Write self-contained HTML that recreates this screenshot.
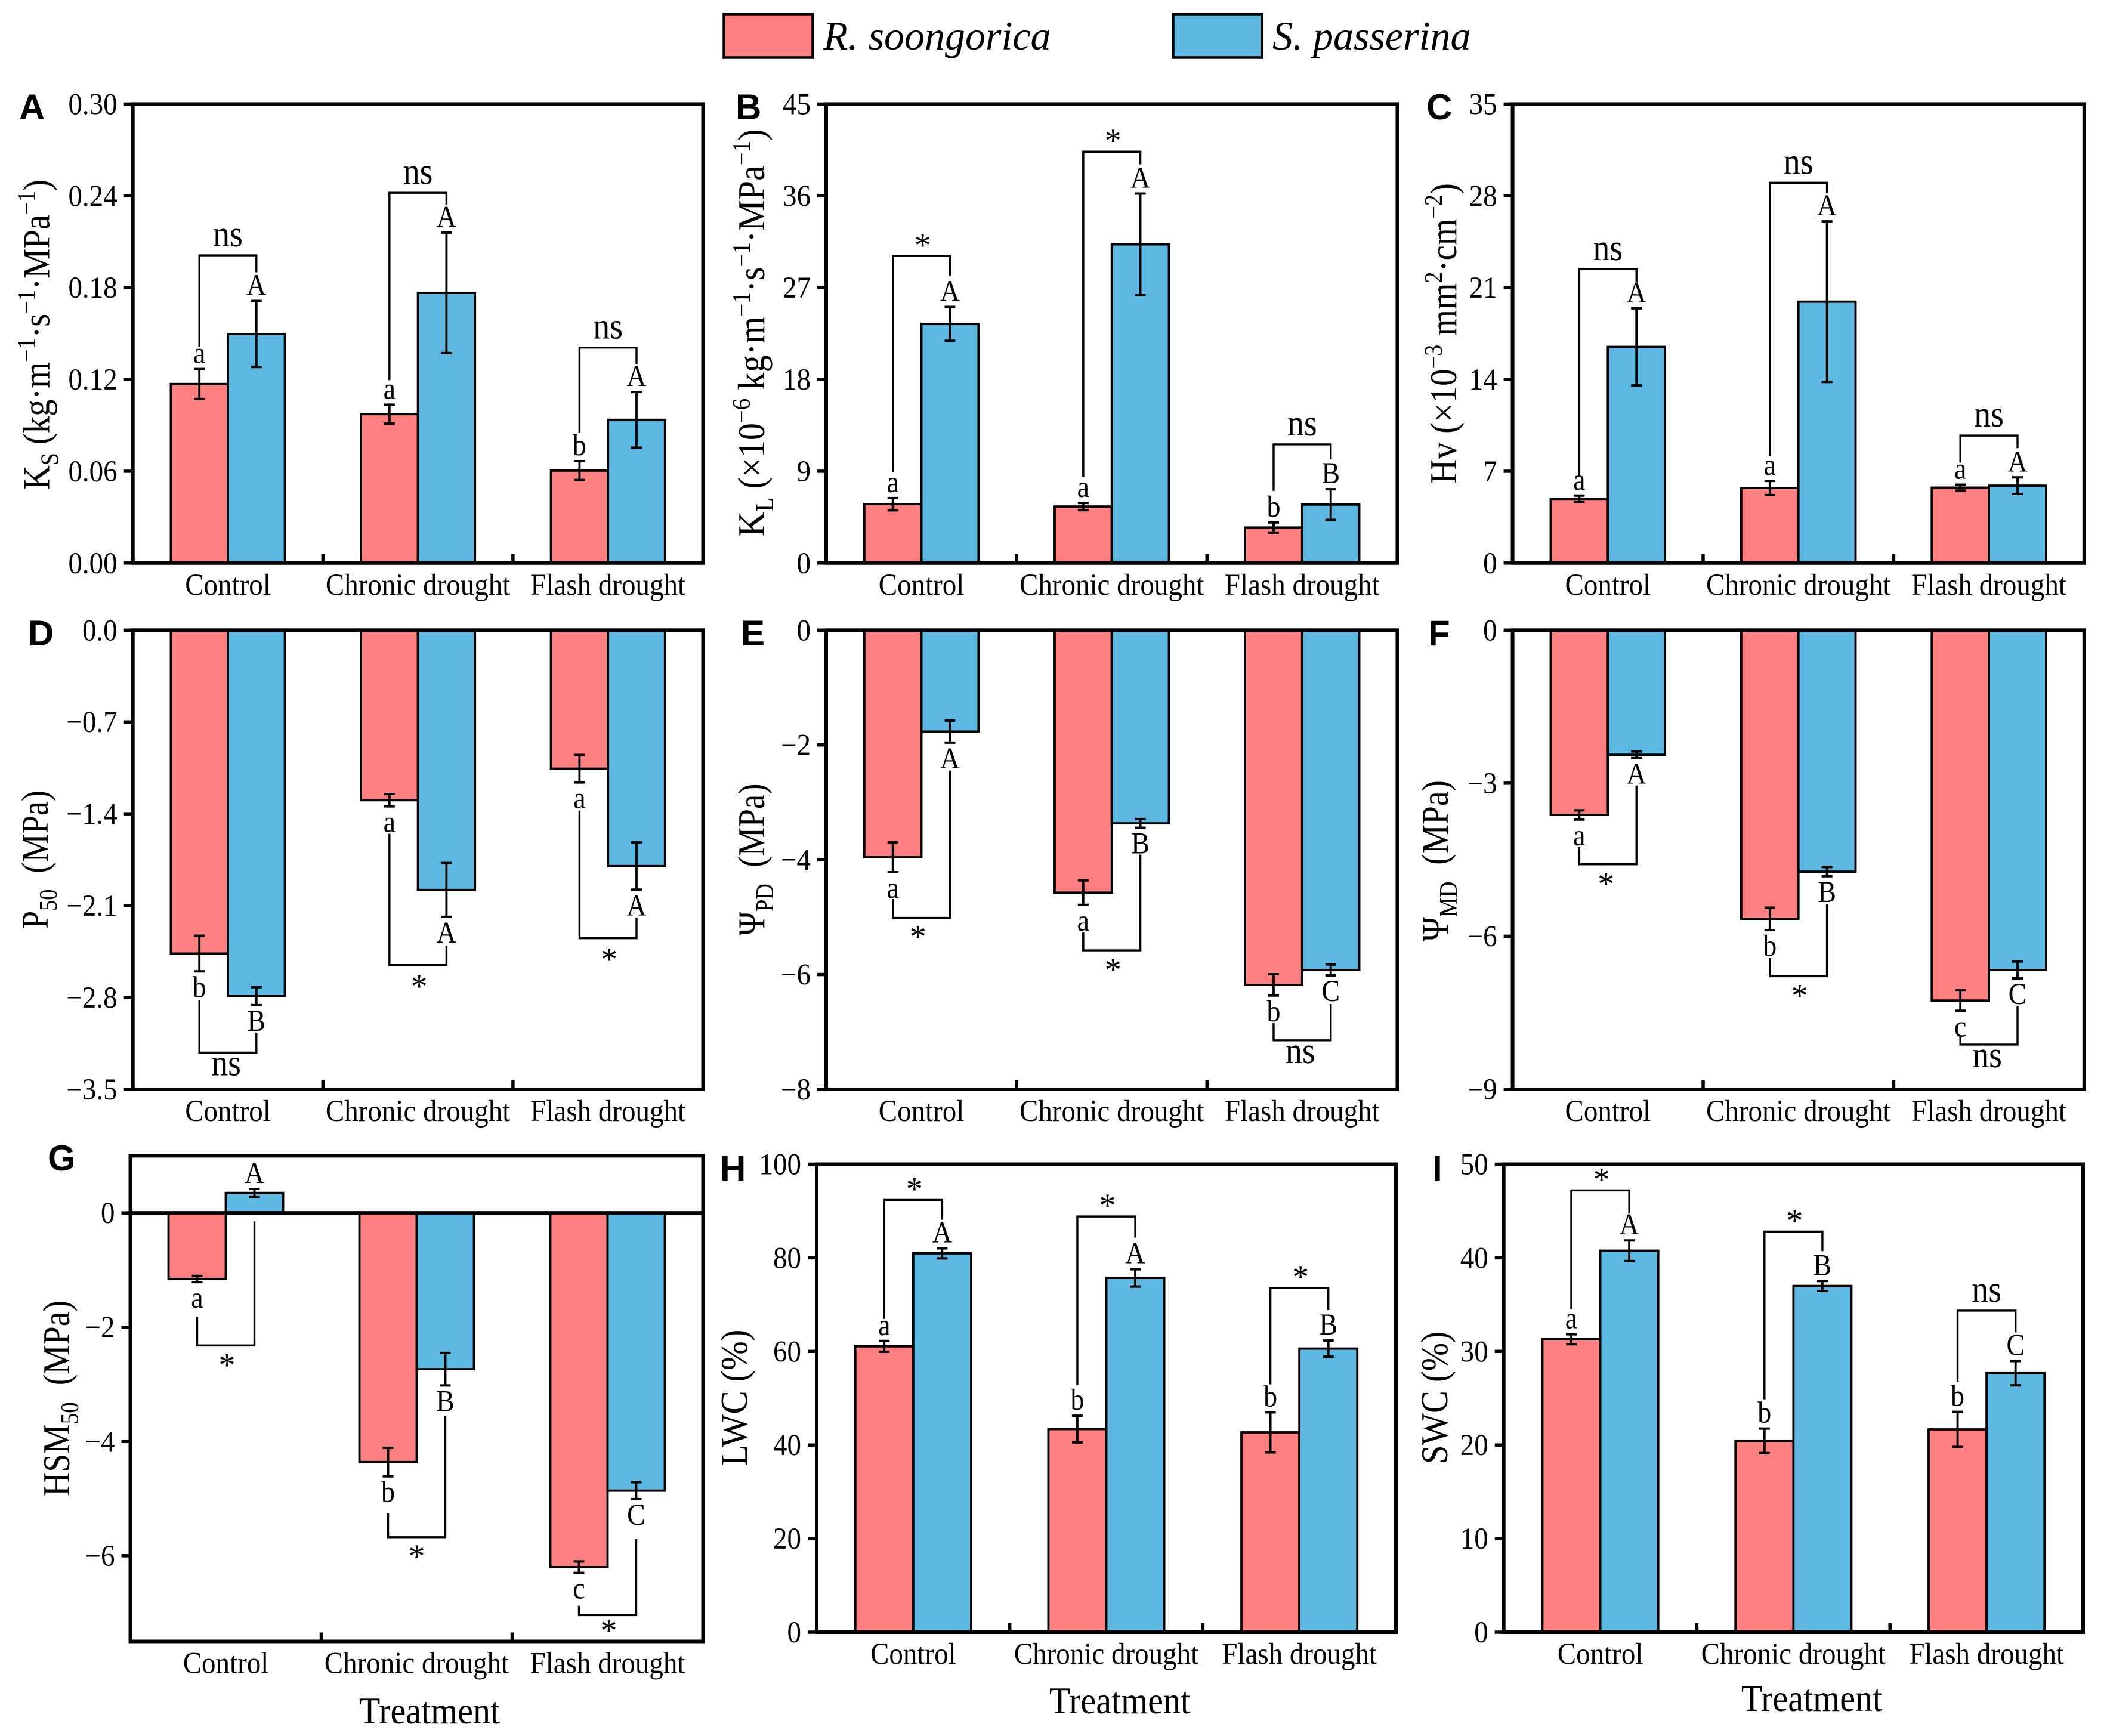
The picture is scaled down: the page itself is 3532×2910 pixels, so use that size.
<!DOCTYPE html>
<html lang="en">
<head>
<meta charset="utf-8">
<title>Hydraulic traits of R. soongorica and S. passerina under drought</title>
<style>
html,body{margin:0;padding:0;background:#fff}
svg{display:block}
text{font-family:"Liberation Serif","DejaVu Serif",serif;fill:#000}
</style>
</head>
<body>
<svg id="figure" xmlns="http://www.w3.org/2000/svg" width="3532" height="2910" viewBox="0 0 3532 2910">
  <rect x="0" y="0" width="3532" height="2910" fill="#fff"/>
  <g>
    <rect x="1213.5" y="23.5" width="149" height="73" fill="#FF8080" stroke="#000" stroke-width="4.5"/>
    <text x="1380" y="83" font-size="68" font-style="italic">R. soongorica</text>
    <rect x="1966.5" y="23.5" width="149" height="73" fill="#5DB9E2" stroke="#000" stroke-width="4.5"/>
    <text x="2133" y="83" font-size="68" font-style="italic">S. passerina</text>
  </g>
</svg>
<script>
// ---- shared categories ----
const categories = ['Control', 'Chronic drought', 'Flash drought'];

// ---- A: Ks ----
const ksTicks = [0, 0.06, 0.12, 0.18, 0.24, 0.30];
const ksTickLabels = ['0.00', '0.06', '0.12', '0.18', '0.24', '0.30'];
const ksRed = [0.117, 0.0973, 0.0604];
const ksRedErr = [0.0098, 0.0062, 0.0062];
const ksBlue = [0.1497, 0.1766, 0.0936];
const ksBlueErr = [0.0216, 0.0394, 0.0182];
const ksRedLetters = ['a', 'a', 'b'];
const ksBlueLetters = ['A', 'A', 'A'];
const ksSig = ['ns', 'ns', 'ns'];
const ksBracket = [0.2011, 0.242, 0.1408];

// ---- B: KL ----
const klTicks = [0, 9, 18, 27, 36, 45];
const klTickLabels = ['0', '9', '18', '27', '36', '45'];
const klRed = [5.77, 5.54, 3.48];
const klRedErr = [0.6, 0.35, 0.5];
const klBlue = [23.45, 31.24, 5.73];
const klBlueErr = [1.66, 4.98, 1.5];
const klRedLetters = ['a', 'a', 'b'];
const klBlueLetters = ['A', 'A', 'B'];
const klSig = ['*', '*', 'ns'];
const klBracket = [30.09, 40.33, 11.63];

// ---- C: Hv ----
const hvTicks = [0, 7, 14, 21, 28, 35];
const hvTickLabels = ['0', '7', '14', '21', '28', '35'];
const hvRed = [4.89, 5.72, 5.75];
const hvRedErr = [0.25, 0.54, 0.22];
const hvBlue = [16.48, 19.93, 5.9];
const hvBlueErr = [2.94, 6.12, 0.63];
const hvRedLetters = ['a', 'a', 'a'];
const hvBlueLetters = ['A', 'A', 'A'];
const hvSig = ['ns', 'ns', 'ns'];
const hvBracket = [22.42, 29.0, 9.72];

// ---- D: P50 ----
const p50Ticks = [0, -0.7, -1.4, -2.1, -2.8, -3.5];
const p50TickLabels = ['0.0', '\u22120.7', '\u22121.4', '\u22122.1', '\u22122.8', '\u22123.5'];
const p50Red = [-2.465, -1.296, -1.056];
const p50RedErr = [0.136, 0.047, 0.105];
const p50Blue = [-2.79, -1.98, -1.798];
const p50BlueErr = [0.068, 0.205, 0.18];
const p50RedLetters = ['b', 'a', 'a'];
const p50BlueLetters = ['B', 'A', 'A'];
const p50Sig = ['ns', '*', '*'];
const p50Bracket = [-3.22, -2.553, -2.348];

// ---- E: PsiPD ----
const pdTicks = [0, -2, -4, -6, -8];
const pdTickLabels = ['0', '\u22122', '\u22124', '\u22126', '\u22128'];
const pdRed = [-3.957, -4.573, -6.18];
const pdRedErr = [0.26, 0.213, 0.186];
const pdBlue = [-1.768, -3.366, -5.92];
const pdBlueErr = [0.192, 0.076, 0.095];
const pdRedLetters = ['a', 'a', 'b'];
const pdBlueLetters = ['A', 'B', 'C'];
const pdSig = ['*', '*', 'ns'];
const pdBracket = [-5.012, -5.579, -7.146];

// ---- F: PsiMD ----
const mdTicks = [0, -3, -6, -9];
const mdTickLabels = ['0', '\u22123', '\u22126', '\u22129'];
const mdRed = [-3.622, -5.66, -7.26];
const mdRedErr = [0.09, 0.22, 0.2];
const mdBlue = [-2.442, -4.733, -6.66];
const mdBlueErr = [0.065, 0.09, 0.165];
const mdRedLetters = ['a', 'b', 'c'];
const mdBlueLetters = ['A', 'B', 'C'];
const mdSig = ['*', '*', 'ns'];
const mdBracket = [-4.589, -6.784, -8.122];

// ---- G: HSM50 ----
const hsmTicks = [0, -2, -4, -6];
const hsmTickLabels = ['0', '\u22122', '\u22124', '\u22126'];
const hsmRed = [-1.156, -4.36, -6.2];
const hsmRedErr = [0.054, 0.25, 0.1];
const hsmBlue = [0.35, -2.735, -4.86];
const hsmBlueErr = [0.07, 0.285, 0.148];
const hsmRedLetters = ['a', 'b', 'c'];
const hsmBlueLetters = ['A', 'B', 'C'];
const hsmSig = ['*', '*', '*'];
const hsmBracket = [-2.32, -5.676, -7.04];

// ---- H: LWC ----
const lwcTicks = [0, 20, 40, 60, 80, 100];
const lwcTickLabels = ['0', '20', '40', '60', '80', '100'];
const lwcRed = [61.08, 43.4, 42.7];
const lwcRedErr = [1.15, 2.85, 4.27];
const lwcBlue = [80.95, 75.7, 60.6];
const lwcBlueErr = [1.07, 1.85, 1.72];
const lwcRedLetters = ['a', 'b', 'b'];
const lwcBlueLetters = ['A', 'A', 'B'];
const lwcSig = ['*', '*', '*'];
const lwcBracket = [92.36, 88.83, 73.56];

// ---- I: SWC ----
const swcTicks = [0, 10, 20, 30, 40, 50];
const swcTickLabels = ['0', '10', '20', '30', '40', '50'];
const swcRed = [31.3, 20.45, 21.67];
const swcRedErr = [0.53, 1.31, 1.87];
const swcBlue = [40.76, 36.99, 27.67];
const swcBlueErr = [1.1, 0.53, 1.3];
const swcRedLetters = ['a', 'b', 'b'];
const swcBlueLetters = ['A', 'B', 'C'];
const swcSig = ['*', '*', 'ns'];
const swcBracket = [47.2, 42.8, 34.36];

// ---- layout of each panel (pixels), separate from the values above ----
const panels = [
  {id:'a', letter:'A', lx:32, ly:200, x0:222.7, x1:1178.5, top:174.4, bottom:943.8, ymin:0, ymax:0.3,
   ticks:ksTicks, tickLabels:ksTickLabels, red:ksRed, redErr:ksRedErr, blue:ksBlue, blueErr:ksBlueErr,
   redL:ksRedLetters, blueL:ksBlueLetters, sig:ksSig, bracket:ksBracket,
   redGap:[37,41,47], blueGap:[48,47,47],
   title:[['K',0],['S',-1],[' (kg\u00B7m',0],['\u22121',1],['\u00B7s',0],['\u22121',1],['\u00B7MPa',0],['\u22121',1],[')',0]],
   tx:82.6, ty:561, tlen:520},
  {id:'b', letter:'B', lx:1233, ly:200, x0:1385, x1:2342.4, top:174.4, bottom:943.8, ymin:0, ymax:45,
   ticks:klTicks, tickLabels:klTickLabels, red:klRed, redErr:klRedErr, blue:klBlue, blueErr:klBlueErr,
   redL:klRedLetters, blueL:klBlueLetters, sig:klSig, bracket:klBracket,
   redGap:[43,43,53], blueGap:[52,49,50],
   title:[['K',0],['L',-1],[' (\u00D710',0],['\u22126',1],[' kg\u00B7m',0],['\u22121',1],['\u00B7s',0],['\u22121',1],['\u00B7MPa',0],['\u22121',1],[')',0]],
   tx:1281, ty:558, tlen:683},
  {id:'c', letter:'C', lx:2391, ly:200, x0:2535.6, x1:3493.8, top:174.4, bottom:943.8, ymin:0, ymax:35,
   ticks:hvTicks, tickLabels:hvTickLabels, red:hvRed, redErr:hvRedErr, blue:hvBlue, blueErr:hvBlueErr,
   redL:hvRedLetters, blueL:hvBlueLetters, sig:hvSig, bracket:hvBracket,
   redGap:[32,42,37], blueGap:[44,47,49],
   title:[['Hv (\u00D710',0],['\u22123',1],[' mm',0],['2',1],['\u00B7cm',0],['\u22122',1],[')',0]],
   tx:2441, ty:559, tlen:504},
  {id:'d', letter:'D', lx:47, ly:1082, x0:222.7, x1:1178.5, top:1056.3, bottom:1826, ymin:-3.5, ymax:0,
   ticks:p50Ticks, tickLabels:p50TickLabels, red:p50Red, redErr:p50RedErr, blue:p50Blue, blueErr:p50BlueErr,
   redL:p50RedLetters, blueL:p50BlueLetters, sig:p50Sig, bracket:p50Bracket,
   redGap:[48,46,47], blueGap:[46,48,47],
   title:[['P',0],['50',-1],['  (MPa)',0]],
   tx:80, ty:1441, tlen:232},
  {id:'e', letter:'E', lx:1242, ly:1082, x0:1385, x1:2342.4, top:1056.3, bottom:1826, ymin:-8, ymax:0,
   ticks:pdTicks, tickLabels:pdTickLabels, red:pdRed, redErr:pdRedErr, blue:pdBlue, blueErr:pdBlueErr,
   redL:pdRedLetters, blueL:pdBlueLetters, sig:pdSig, bracket:pdBracket,
   redGap:[45,46,46], blueGap:[47,45,48], sigDx:[-8,0,0], sigDy:[-4,-3,0],
   title:[['\u03A8',0],['PD',-1],['  (MPa)',0]],
   tx:1281, ty:1441, tlen:255},
  {id:'f', letter:'F', lx:2394, ly:1082, x0:2535.6, x1:3493.8, top:1056.3, bottom:1826, ymin:-9, ymax:0,
   ticks:mdTicks, tickLabels:mdTickLabels, red:mdRed, redErr:mdRedErr, blue:mdBlue, blueErr:mdBlueErr,
   redL:mdRedLetters, blueL:mdBlueLetters, sig:mdSig, bracket:mdBracket,
   redGap:[46,47,42], blueGap:[46,47,46], sigDx:[-5,0,0], sigDy:[-3,-3,0],
   title:[['\u03A8',0],['MD',-1],['  (MPa)',0]],
   tx:2427, ty:1443, tlen:270},
  {id:'g', letter:'G', lx:80, ly:1962, x0:218.5, x1:1178.5, top:1937.4, bottom:2751.5, ymin:-7.5, ymax:1,
   ticks:hsmTicks, tickLabels:hsmTickLabels, red:hsmRed, redErr:hsmRedErr, blue:hsmBlue, blueErr:hsmBlueErr,
   redL:hsmRedLetters, blueL:hsmBlueLetters, sig:hsmSig, bracket:hsmBracket,
   redGap:[58,62,55], blueGap:[41,51,67], zeroLine:true, sigDx:[0,-2,0], sigDy:[-3,-4,-10],
   title:[['HSM',0],['50',-1],['  (MPa)',0]],
   tx:116, ty:2344, tlen:328, xTitle:'Treatment', xtx:720, xty:2889},
  {id:'h', letter:'H', lx:1207, ly:1979, x0:1369, x1:2340, top:1951.5, bottom:2736, ymin:0, ymax:100,
   ticks:lwcTicks, tickLabels:lwcTickLabels, red:lwcRed, redErr:lwcRedErr, blue:lwcBlue, blueErr:lwcBlueErr,
   redL:lwcRedLetters, blueL:lwcBlueLetters, sig:lwcSig, bracket:lwcBracket,
   redGap:[37,51,47], blueGap:[48,53,51],
   title:[['LWC (%)',0]],
   tx:1252, ty:2343, tlen:229, xTitle:'Treatment', xtx:1877, xty:2872},
  {id:'i', letter:'I', lx:2401, ly:1979, x0:2520.7, x1:3492, top:1951.5, bottom:2736, ymin:0, ymax:50,
   ticks:swcTicks, tickLabels:swcTickLabels, red:swcRed, redErr:swcRedErr, blue:swcBlue, blueErr:swcBlueErr,
   redL:swcRedLetters, blueL:swcBlueLetters, sig:swcSig, bracket:swcBracket,
   redGap:[42,49,50], blueGap:[45,50,48],
   title:[['SWC (%)',0]],
   tx:2426, ty:2343, tlen:222, xTitle:'Treatment', xtx:3037, xty:2868}
];

const NS = 'http://www.w3.org/2000/svg';
const RED = '#FF8080';
const BLUE = '#5DB9E2';
const svg = document.getElementById('figure');

function mk(tag, attrs, parent, txt) {
  const el = document.createElementNS(NS, tag);
  for (const k in attrs) el.setAttribute(k, attrs[k]);
  if (txt !== undefined) el.textContent = txt;
  parent.appendChild(el);
  return el;
}

// Keep the measured width of a label but make its glyphs taller, as in the reference.
function tall(el, factor) {
  const len = el.getComputedTextLength();
  const fs = parseFloat(el.getAttribute('font-size'));
  el.setAttribute('font-size', fs * factor);
  el.setAttribute('textLength', len);
  el.setAttribute('lengthAdjust', 'spacingAndGlyphs');
}

function drawBar(g, p, cx, v, side, fill, yScale, catName) {
  const bw = (p.x1 - p.x0) / 3 * 0.3;
  const x = side === 0 ? cx - bw : cx;
  const y0 = yScale(0), y1 = yScale(v);
  const el = mk('rect', {x: x, y: Math.min(y0, y1), width: bw, height: Math.abs(y1 - y0), fill: fill, stroke: '#000', 'stroke-width': 3.8}, g);
  
  
}

function drawError(g, x, v, e, yScale, catName) {
  const eg = mk('g', {}, g);
  
  
  const a = yScale(v + e), b = yScale(v - e);
  mk('line', {x1: x, x2: x, y1: a, y2: b, stroke: '#000', 'stroke-width': 3.8}, eg);
  mk('line', {x1: x - 9, x2: x + 9, y1: a, y2: a, stroke: '#000', 'stroke-width': 4}, eg);
  mk('line', {x1: x - 9, x2: x + 9, y1: b, y2: b, stroke: '#000', 'stroke-width': 4}, eg);
}

function letterY(v, e, yScale) {
  return v >= 0 ? yScale(v + e) - 10 : yScale(v - e) + 43;
}

function drawPanel(p) {
  const g = mk('g', {}, svg);
  
  

  const band = (p.x1 - p.x0) / 3;
  const bw = band * 0.3;
  const xCenter = i => p.x0 + band * (i + 0.5);
  const yScale = v => p.top + (p.ymax - v) / (p.ymax - p.ymin) * (p.bottom - p.top);

  // bars
  categories.forEach((c, i) => {
    const slug = c.toLowerCase().replace(/ /g, '-');
    drawBar(g, p, xCenter(i), p.red[i], 0, RED, yScale, slug);
    drawBar(g, p, xCenter(i), p.blue[i], 1, BLUE, yScale, slug);
  });

  // error bars, letters, brackets
  categories.forEach((c, i) => {
    const slug = c.toLowerCase().replace(/ /g, '-');
    const cx = xCenter(i);
    const rx = cx - bw / 2, bx = cx + bw / 2;
    const rv = p.red[i], re = p.redErr[i], bv = p.blue[i], be = p.blueErr[i];
    drawError(g, rx, rv, re, yScale, slug + '-r-soongorica');
    drawError(g, bx, bv, be, yScale, slug + '-s-passerina');

    const rl = mk('text', {x: rx, y: letterY(rv, re, yScale), 'font-size': 46, 'text-anchor': 'middle'}, g, p.redL[i]);
    
    
    tall(rl, 1.1);
    const bl = mk('text', {x: bx, y: letterY(bv, be, yScale), 'font-size': 46, 'text-anchor': 'middle'}, g, p.blueL[i]);
    
    
    tall(bl, 1.1);

    const level = yScale(p.bracket[i]);
    const down = p.bracket[i] < Math.min(rv, bv);
    const rEnd = down ? yScale(rv - re) + p.redGap[i] : yScale(rv + re) - p.redGap[i];
    const bEnd = down ? yScale(bv - be) + p.blueGap[i] : yScale(bv + be) - p.blueGap[i];
    const path = mk('path', {d: 'M' + rx + ' ' + rEnd + 'L' + rx + ' ' + level + 'L' + bx + ' ' + level + 'L' + bx + ' ' + bEnd, fill: 'none', stroke: '#000', 'stroke-width': 3.4}, g);
    
    

    const isNs = p.sig[i] === 'ns';
    const sy = (isNs ? (down ? level + 38 : level - 15) : (down ? level + 54 : level)) + (p.sigDy ? p.sigDy[i] : 0);
    const sx = (rx + bx) / 2 + (isNs ? (down ? -3 : 0) : 2) + (p.sigDx ? p.sigDx[i] : 0);
    const st = mk('text', {x: sx, y: sy, 'font-size': 56, 'text-anchor': 'middle'}, g, p.sig[i]);
    
    
    if (isNs) tall(st, 1.12);
  });

  // frame
  const frame = mk('rect', {x: p.x0, y: p.top, width: p.x1 - p.x0, height: p.bottom - p.top, fill: 'none', stroke: '#000', 'stroke-width': 6}, g);
  
  

  if (p.zeroLine) {
    const zl = mk('line', {x1: p.x0, x2: p.x1, y1: yScale(0), y2: yScale(0), stroke: '#000', 'stroke-width': 6}, g);
    
    
  }

  // y ticks
  p.ticks.forEach((t, i) => {
    const y = yScale(t);
    const tick = mk('line', {x1: p.x0 - 15, x2: p.x0, y1: y, y2: y, stroke: '#000', 'stroke-width': 5.5}, g);
    
    
    const lab = mk('text', {x: p.x0 - 26, y: y + 17, 'font-size': 47, 'text-anchor': 'end'}, g, p.tickLabels[i]);
    
    
    tall(lab, 1.07);
  });

  // x ticks between groups and category labels
  [1, 2].forEach(k => {
    const x = p.x0 + band * k;
    const tick = mk('line', {x1: x, x2: x, y1: p.bottom, y2: p.bottom - 15, stroke: '#000', 'stroke-width': 5.5}, g);
    
    
  });
  categories.forEach((c, i) => {
    const lab = mk('text', {x: xCenter(i), y: p.bottom + 53, 'font-size': 47, 'text-anchor': 'middle'}, g, c);
    
    
    tall(lab, 1.07);
  });

  // y title: glyphs set taller than their run length, as in the reference
  const title = mk('text', {x: p.tx, y: p.ty, 'font-size': 63, 'text-anchor': 'middle', transform: 'rotate(-90 ' + p.tx + ' ' + p.ty + ')', textLength: p.tlen, lengthAdjust: 'spacingAndGlyphs', 'xml:space': 'preserve'}, g);
  title.style.whiteSpace = 'pre';
  
  
  let off = 0;
  p.title.forEach(piece => {
    const target = piece[1] === 1 ? -24 : piece[1] === -1 ? 15 : 0;
    const size = piece[1] === 0 ? 63 : 42;
    mk('tspan', {dy: target - off, 'font-size': size}, title, piece[0]);
    off = target;
  });

  // x title
  if (p.xTitle) {
    const xt = mk('text', {x: p.xtx, y: p.xty, 'font-size': 58, 'text-anchor': 'middle'}, g, p.xTitle);
    
    
    tall(xt, 1.1);
  }

  // panel letter
  const pl = mk('text', {x: p.lx, y: p.ly, 'font-size': 60, 'font-weight': 'bold'}, g, p.letter);
  pl.style.fontFamily = '"Liberation Sans", Arial, sans-serif';
  
  
}

panels.forEach(drawPanel);
</script>
</body>
</html>
